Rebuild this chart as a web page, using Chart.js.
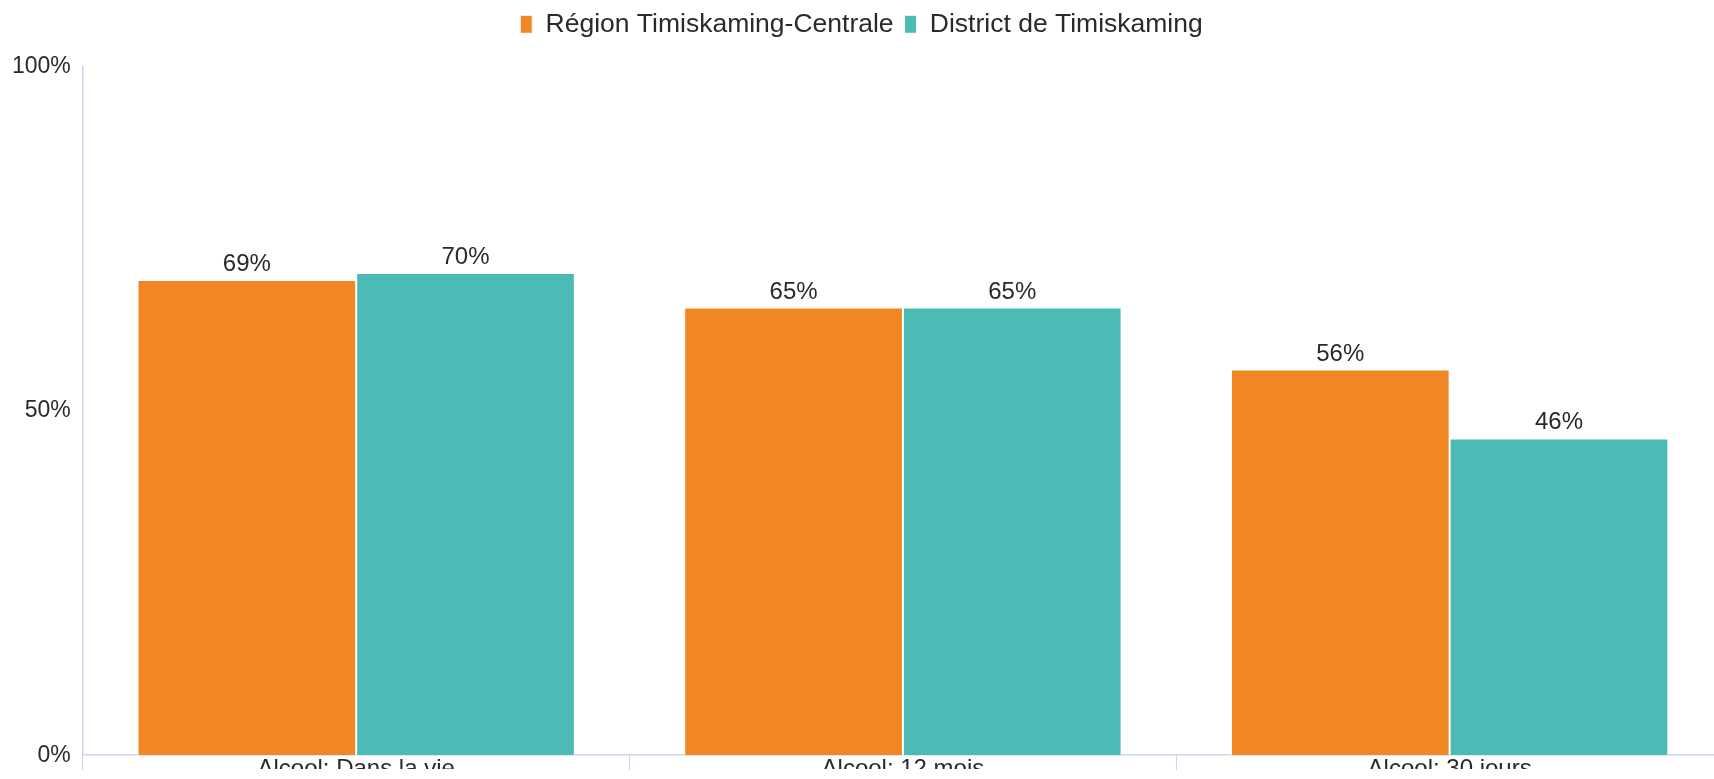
<!DOCTYPE html>
<html lang="fr">
<head>
<meta charset="utf-8">
<title>Alcool</title>
<script src="https://cdn.jsdelivr.net/npm/chart.js@4.4.1/dist/chart.umd.min.js"></script>
<style>
    html, body { margin: 0; padding: 0; background: #fff; overflow: hidden; }
    #wrap { width: 1723px; height: 781px; }
</style>
</head>
<body>
<div id="wrap"><canvas id="chartAlcool" width="1723" height="781"></canvas></div>
<script>
// --- Données ---
const categories = ['Alcool: Dans la vie', 'Alcool: 12 mois', 'Alcool: 30 jours'];
const seriesNames = ['Région Timiskaming-Centrale', 'District de Timiskaming'];
const regionValues = [69, 65, 56];
const districtValues = [70, 65, 46];
const yTicks = [0, 50, 100];

const FONT = "'Liberation Sans', Arial, sans-serif";
const TEXT = '#2a2a2a';
const AXIS = '#ccd6eb';

// --- Étiquettes au-dessus des barres ---
const valueLabels = {
    id: 'valueLabels',
    afterDatasetsDraw(chart) {
        const ctx = chart.ctx;
        ctx.save();
        ctx.font = '24px ' + FONT;
        ctx.fillStyle = TEXT;
        ctx.textAlign = 'center';
        ctx.textBaseline = 'alphabetic';
        chart.data.datasets.forEach((ds, i) => {
            chart.getDatasetMeta(i).data.forEach((bar, j) => {
                ctx.fillText(ds.data[j] + '%', bar.x, bar.y - 9);
            });
        });
        ctx.restore();
    }
};

// --- Espace sous la légende ---
const legendGap = {
    id: 'legendGap',
    beforeInit(chart) {
        const fit = chart.legend.fit;
        chart.legend.fit = function() {
            fit.bind(chart.legend)();
            this.height += 19;
        };
    }
};

new Chart(document.getElementById('chartAlcool'), {
    type: 'bar',
    data: {
        labels: categories,
        datasets: [{
            label: seriesNames[0],
            data: regionValues,
            backgroundColor: '#F08624',
            borderColor: '#ffffff',
            borderWidth: 1
        }, {
            label: seriesNames[1],
            data: districtValues,
            backgroundColor: '#4CBBB6',
            borderColor: '#ffffff',
            borderWidth: 1
        }]
    },
    options: {
        responsive: false,
        animation: false,
        devicePixelRatio: 1,
        layout: { padding: 0 },
        datasets: { bar: { categoryPercentage: 0.8, barPercentage: 1.0 } },
        plugins: {
            legend: {
                position: 'top',
                labels: {
                    font: { family: FONT, size: 26.5 },
                    color: TEXT,
                    boxWidth: 12,
                    boxHeight: 18,
                    padding: 11
                }
            },
            tooltip: { enabled: false }
        },
        scales: {
            x: {
                offset: true,
                grid: {
                    offset: true,
                    drawOnChartArea: false,
                    drawTicks: true,
                    tickLength: 15,
                    color: AXIS
                },
                border: { display: true, color: AXIS, width: 1.5 },
                ticks: {
                    font: { family: FONT, size: 24 },
                    color: TEXT,
                    padding: -15,
                    maxRotation: 0
                }
            },
            y: {
                min: 0,
                max: 100,
                afterBuildTicks(scale) {
                    scale.ticks = yTicks.map(v => ({ value: v }));
                },
                grid: { display: false, drawTicks: false },
                border: { display: true, color: AXIS, width: 1.5 },
                ticks: {
                    font: { family: FONT, size: 23 },
                    color: TEXT,
                    padding: 12,
                    callback: v => v + '%'
                }
            }
        }
    },
    plugins: [valueLabels, legendGap]
});
</script>
</body>
</html>
